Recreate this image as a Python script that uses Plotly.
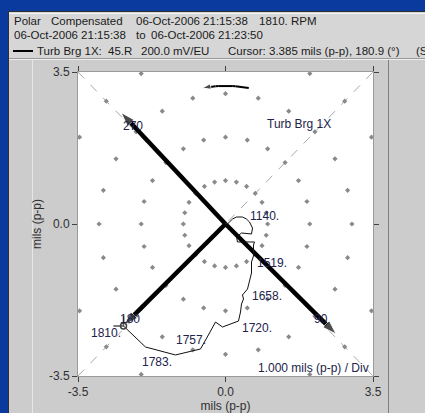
import plotly.graph_objects as go
import numpy as np

# ---------------- data ----------------
# 1X vector locus (coast-down), mils p-p, cartesian (x, y)
locus_x = [-2.420, -1.898, -1.187, -0.593, -0.380, -0.237, -0.071, 0.308, 0.356, 0.380,
           0.427, 0.403, 0.522, 0.570, 0.617, 0.617, 0.664, 0.664, 0.688, 0.570, 0.285,
           0.261, 0.380, 0.617, 0.641, 0.570, 0.498, 0.403, 0.261, 0.166, 0.095, 0.047]
locus_y = [-2.349, -2.832, -3.016, -2.878, -2.510, -2.257, -2.372, -2.234, -2.026, -1.842,
           -1.727, -1.635, -1.497, -1.335, -1.128, -0.875, -0.737, -0.484, -0.414, -0.414, -0.414,
           -0.299, -0.207, -0.230, -0.092, 0.046, 0.115, 0.161, 0.161, 0.115, 0.046, 0.0]
rpm_labels = ["1810.", "1783.", "1757.", "1720.", "1658.", "1519.", "1140."]
rpm_index = [0, 2, 4, 7, 12, 16, 26]
rpm_side = ["left", "left", "left", "right", "right", "right", "right"]

# polar grid
grid_radii = [1, 2, 3, 4]
grid_angles_deg = list(range(0, 360, 15))

# probe / orientation arrows
arrow_angles_deg = [134, 224, 316]
arrow_radii = [3.57, 3.35, 3.65]
arrow_labels = ["270", "180", "90"]

# rotation-direction arc
rot_radius = 3.18
rot_from_deg = 80
rot_to_deg = 100

axis_range = [-3.5, 3.5]
tick_vals = [-3.5, 0.0, 3.5]
tick_text = ["-3.5", "0.0", "3.5"]

# ---------------- figure ----------------
W, H = 425, 413
L, R, T, B = 78, 373, 72, 376
FONT = "Liberation Sans, Arial, sans-serif"
BLUE = "#0b3a9e"
LABEL_YSHIFT = {"1140.": 3}


def pxx(X):
    return (X - L) / (R - L)


def pxy(Y):
    return (B - Y) / (B - T)


fig = go.Figure()

# diagonal dashed lines
for sx in (1, -1):
    fig.add_trace(go.Scatter(x=[-3.5, 3.5], y=[-3.5 * sx, 3.5 * sx], mode="lines",
                             line=dict(color="#a8a8a8", width=1, dash="dash"),
                             hoverinfo="skip", showlegend=False))

# polar grid dots
gx, gy = [], []
for r in grid_radii:
    for a in grid_angles_deg:
        x = r * np.cos(np.radians(a))
        y = r * np.sin(np.radians(a))
        if abs(x) <= 3.5 and abs(y) <= 3.5:
            gx.append(x)
            gy.append(y)
fig.add_trace(go.Scatter(x=gx, y=gy, mode="markers",
                         marker=dict(symbol="diamond", size=4, color="#8a8a8a"),
                         hoverinfo="skip", showlegend=False))

# thick arrows
for ang, rad in zip(arrow_angles_deg, arrow_radii):
    ex = rad * np.cos(np.radians(ang))
    ey = rad * np.sin(np.radians(ang))
    fig.add_trace(go.Scatter(x=[0, ex], y=[0, ey], mode="lines+markers",
                             line=dict(color="black", width=4.5),
                             marker=dict(symbol="arrow", size=[0, 15], color="black",
                                         angleref="previous"),
                             hoverinfo="skip", showlegend=False))

# rotation arc
arc_a = np.radians(np.linspace(rot_from_deg, rot_to_deg, 15))
fig.add_trace(go.Scatter(x=rot_radius * np.cos(arc_a), y=rot_radius * np.sin(arc_a),
                         mode="lines+markers",
                         line=dict(color="black", width=2),
                         marker=dict(symbol="arrow", size=[0] * 14 + [9], color="black",
                                     angleref="previous"),
                         hoverinfo="skip", showlegend=False))

# locus
fig.add_trace(go.Scatter(x=locus_x, y=locus_y, mode="lines",
                         line=dict(color="#111111", width=1),
                         hoverinfo="skip", showlegend=False))

# cursor
cx, cy = locus_x[0], locus_y[0]
fig.add_trace(go.Scatter(x=[cx - 0.24, cx, cx], y=[cy, cy, cy + 0.23], mode="lines",
                         line=dict(color="#555555", width=1.5),
                         hoverinfo="skip", showlegend=False))
fig.add_trace(go.Scatter(x=[cx], y=[cy], mode="markers",
                         marker=dict(symbol="circle-open", size=6, color="#444444",
                                     line=dict(color="#444444", width=1.5)),
                         hoverinfo="skip", showlegend=False))

annotations = []
LBL = "#22224a"
# rpm labels
for lab, idx, side in zip(rpm_labels, rpm_index, rpm_side):
    annotations.append(dict(x=locus_x[idx], y=locus_y[idx], xref="x", yref="y", text=lab,
                            showarrow=False, xanchor="right" if side == "left" else "left",
                            yanchor="middle", yshift=LABEL_YSHIFT.get(lab, -7),
                            xshift=-1 if side == "left" else 2,
                            font=dict(family=FONT, size=12, color=LBL)))
# arrow labels
for ang, lab in zip(arrow_angles_deg, arrow_labels):
    annotations.append(dict(x=3.15 * np.cos(np.radians(ang)), y=3.15 * np.sin(np.radians(ang)),
                            xref="x", yref="y", text=lab, showarrow=False,
                            xanchor="center", yanchor="middle",
                            font=dict(family=FONT, size=12, color=LBL)))

# in-plot texts
annotations.append(dict(x=pxx(299), y=pxy(124), xref="paper", yref="paper", text="Turb Brg 1X",
                        showarrow=False, xanchor="center", yanchor="middle",
                        font=dict(family=FONT, size=12, color=LBL)))
annotations.append(dict(x=pxx(371), y=pxy(368), xref="paper", yref="paper",
                        text="1.000 mils (p-p) / Div", showarrow=False,
                        xanchor="right", yanchor="middle",
                        font=dict(family=FONT, size=12, color=LBL)))

# header texts
HDR = "#1a1a1a"
header = [
    (13, 21.5, "Polar"), (50, 21.5, "Compensated"), (135, 21.5, "06-Oct-2006 21:15:38"),
    (258, 21.5, "1810. RPM"),
    (13, 35, "06-Oct-2006 21:15:38"), (135, 35, "to"), (150, 35, "06-Oct-2006 21:23:50"),
    (36, 50.5, "Turb Brg 1X:"), (107, 50.5, "45.R"), (140, 50.5, "200.0 mV/EU"),
    (227, 50.5, "Cursor:"), (268, 50.5, "3.385 mils (p-p), 180.9 (°)"), (415, 50.5, "(S"),
]
for X, Y, txt in header:
    annotations.append(dict(x=pxx(X), y=pxy(Y), xref="paper", yref="paper", text=txt,
                            showarrow=False, xanchor="left", yanchor="middle", xshift=-1,
                            font=dict(family=FONT, size=11.5, color=HDR)))

shapes = []
# header panel
shapes.append(dict(type="rect", xref="paper", yref="paper", x0=pxx(9), x1=pxx(430),
                   y0=pxy(12), y1=pxy(58), fillcolor="#d6d6d6", line=dict(width=0), layer="below"))
# blue frame
shapes.append(dict(type="rect", xref="paper", yref="paper", x0=pxx(-5), x1=pxx(8),
                   y0=pxy(-5), y1=pxy(420), fillcolor=BLUE, line=dict(width=0), layer="below"))
shapes.append(dict(type="rect", xref="paper", yref="paper", x0=pxx(-5), x1=pxx(430),
                   y0=pxy(-5), y1=pxy(11), fillcolor=BLUE, line=dict(width=0), layer="below"))
# frame lines
shapes.append(dict(type="line", xref="paper", yref="paper", x0=pxx(8.5), x1=pxx(8.5),
                   y0=pxy(11), y1=pxy(420), line=dict(color="#303030", width=1), layer="below"))
shapes.append(dict(type="line", xref="paper", yref="paper", x0=pxx(8), x1=pxx(430),
                   y0=pxy(11.5), y1=pxy(11.5), line=dict(color="#303030", width=1), layer="below"))
shapes.append(dict(type="line", xref="paper", yref="paper", x0=pxx(9), x1=pxx(430),
                   y0=pxy(13.5), y1=pxy(13.5), line=dict(color="#f4f4f4", width=1), layer="below"))
shapes.append(dict(type="line", xref="paper", yref="paper", x0=pxx(9), x1=pxx(430),
                   y0=pxy(58.5), y1=pxy(58.5), line=dict(color="#9a9a9a", width=1), layer="below"))
shapes.append(dict(type="line", xref="paper", yref="paper", x0=pxx(9), x1=pxx(430),
                   y0=pxy(59.5), y1=pxy(59.5), line=dict(color="#eeeeee", width=1), layer="below"))
shapes.append(dict(type="line", xref="paper", yref="paper", x0=pxx(32.5), x1=pxx(32.5),
                   y0=pxy(60), y1=pxy(420), line=dict(color="#e6e6e6", width=1), layer="below"))
shapes.append(dict(type="line", xref="paper", yref="paper", x0=pxx(388.5), x1=pxx(388.5),
                   y0=pxy(60), y1=pxy(420), line=dict(color="#808080", width=1), layer="below"))
# legend line sample
shapes.append(dict(type="line", xref="paper", yref="paper", x0=pxx(13), x1=pxx(33),
                   y0=pxy(51), y1=pxy(51), line=dict(color="black", width=2)))

axis_common = dict(range=axis_range, tickvals=tick_vals, ticktext=tick_text,
                   ticks="outside", ticklen=5, tickcolor="#404040", tickwidth=1,
                   showline=True, linecolor="#9a9a9a", linewidth=1, mirror="ticks",
                   showgrid=False, zeroline=False, automargin=False,
                   tickfont=dict(family=FONT, size=12, color="#303030"))

fig.update_layout(
    width=W, height=H,
    margin=dict(l=L, r=W - R, t=T, b=H - B, pad=0),
    paper_bgcolor="#cccccc", plot_bgcolor="white",
    xaxis=dict(**axis_common, title=dict(text="mils (p-p)", standoff=2,
                                         font=dict(family=FONT, size=12, color="#303030"))),
    yaxis=dict(**axis_common, title=dict(text="mils (p-p)", standoff=4,
                                         font=dict(family=FONT, size=12, color="#303030"))),
    annotations=annotations, shapes=shapes, showlegend=False,
)

fig.write_html("out.html", config={"displayModeBar": False},
               post_script="document.body.style.margin='0';document.body.style.overflow='hidden';")
